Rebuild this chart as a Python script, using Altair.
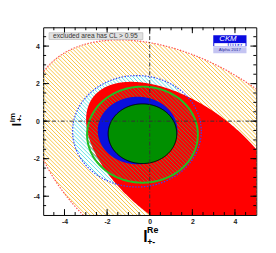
import altair as alt
import numpy as np
import pandas as pd

W, H = 218, 192
XD = [-5, 5]
YD = [-5, 5]

# ---- axis ticks
major_ticks = [-4, -2, 0, 2, 4]
minor_ticks = [-4.5, -4, -3.5, -3, -2.5, -2, -1.5, -1, -0.5, 0, 0.5, 1, 1.5, 2, 2.5, 3, 3.5, 4, 4.5]

# ---- contour boundary points (data units)
big_x = [-5.0, -4.28, -3.36, -1.68, -0.15, 2.91, 4.9, -4.92, -4.13, -3.21]
big_y = [2.7, 3.44, 3.96, 4.27, 4.18, 3.27, 1.70, -2.12, -3.59, -4.98]

red_x = [-2.98, -2.9, -2.06, -0.76, 0.08, 1.68, 2.75, 3.75, 4.51, 4.97, -2.9, -2.6, -2.1, -1.6, -0.76, -0.2]
red_y = [0.14, 1.09, 1.875, 1.93, 1.93, 1.44, 0.83, -0.04, -0.9, -1.6, -0.47, -1.51, -2.55, -3.25, -4.29, -4.9]
# rough starting guess for the red ellipse: centre x, centre y, angle (rad), a, b
red_guess = [1.52, -2.35, -0.70, 5.41, 3.06]

# circles / ellipses: centre x, centre y, radius x, radius y
ring_c = [-0.34, -0.72, 2.60, 2.56]      # green ring (hatched)
dot_c = [-0.60, -0.54, 3.02, 2.97]       # blue dotted circle (cyan hatch)
blue_c = [-0.57, -0.50, 1.87, 1.80]      # blue filled
green_c = [-0.34, -0.67, 1.61, 1.59]     # green filled

FONT = "Liberation Sans"


def conic_from_points(xs, ys):
    x = np.asarray(xs, float)
    y = np.asarray(ys, float)
    Dm = np.column_stack([x * x, x * y, y * y, x, y, np.ones_like(x)])
    _, _, Vt = np.linalg.svd(Dm)
    c = Vt[-1]
    if c[0] + c[2] < 0:
        c = -c
    return c


def conic_from_ellipse(p):
    cx, cy, rx, ry = p
    A = 1 / rx ** 2
    C = 1 / ry ** 2
    return np.array([A, 0.0, C, -2 * cx * A, -2 * cy * C, cx * cx * A + cy * cy * C - 1])


def conic_from_rot(cx, cy, phi, a, b):
    R = np.array([[np.cos(phi), -np.sin(phi)], [np.sin(phi), np.cos(phi)]])
    M = R @ np.diag([1 / a ** 2, 1 / b ** 2]) @ R.T
    c = np.array([cx, cy])
    Mc = M @ c
    return np.array([M[0, 0], 2 * M[0, 1], M[1, 1], -2 * Mc[0], -2 * Mc[1], c @ Mc - 1])


def conic_geom(c):
    A, B, C, D, E, F = c
    M = np.array([[A, B / 2], [B / 2, C]])
    ctr = np.linalg.solve(2 * M, -np.array([D, E]))
    F0 = A * ctr[0] ** 2 + B * ctr[0] * ctr[1] + C * ctr[1] ** 2 + D * ctr[0] + E * ctr[1] + F
    lam, V = np.linalg.eigh(M)
    k = -F0
    r = np.sqrt(k / lam)
    return ctr, r, V, M, k


def nelder_mead(f, x0, steps, iters=3000):
    n = len(x0)
    pts = [np.array(x0, float)]
    for i in range(n):
        p = np.array(x0, float)
        p[i] += steps[i]
        pts.append(p)
    vals = [f(p) for p in pts]
    for _ in range(iters):
        order = np.argsort(vals)
        pts = [pts[i] for i in order]
        vals = [vals[i] for i in order]
        cen = np.mean(pts[:-1], axis=0)
        xr = cen + (cen - pts[-1])
        fr = f(xr)
        if fr < vals[0]:
            xe = cen + 2 * (cen - pts[-1])
            fe = f(xe)
            if fe < fr:
                pts[-1], vals[-1] = xe, fe
            else:
                pts[-1], vals[-1] = xr, fr
        elif fr < vals[-2]:
            pts[-1], vals[-1] = xr, fr
        else:
            xc = cen + 0.5 * (pts[-1] - cen)
            fc = f(xc)
            if fc < vals[-1]:
                pts[-1], vals[-1] = xc, fc
            else:
                for i in range(1, len(pts)):
                    pts[i] = pts[0] + 0.5 * (pts[i] - pts[0])
                    vals[i] = f(pts[i])
    return pts[int(np.argmin(vals))]


def fit_ellipse(xs, ys, guess):
    xs = np.asarray(xs, float)
    ys = np.asarray(ys, float)

    def cost(p):
        cx, cy, phi, la, lb = p
        a, b = np.exp(la), np.exp(lb)
        dx, dy = xs - cx, ys - cy
        u = dx * np.cos(phi) + dy * np.sin(phi)
        v = -dx * np.sin(phi) + dy * np.cos(phi)
        G = (u / a) ** 2 + (v / b) ** 2 - 1
        g = 2 * np.sqrt(u ** 2 / a ** 4 + v ** 2 / b ** 4) + 1e-9
        return np.sum((G / g) ** 2)

    p0 = [guess[0], guess[1], guess[2], np.log(guess[3]), np.log(guess[4])]
    p = nelder_mead(cost, p0, [0.3, 0.3, 0.1, 0.1, 0.1])
    p = nelder_mead(cost, p, [0.05, 0.05, 0.02, 0.02, 0.02])
    return conic_from_rot(p[0], p[1], p[2], np.exp(p[3]), np.exp(p[4]))


def outline(c, n=360):
    ctr, r, V, M, k = conic_geom(c)
    t = np.linspace(0, 2 * np.pi, n)
    pts = ctr[:, None] + V @ np.vstack([r[0] * np.cos(t), r[1] * np.sin(t)])
    return pd.DataFrame({"x": pts[0], "y": pts[1], "i": np.arange(n)})


def band(c, n=500):
    A, B, C, D, E, F = c
    ctr, r, V, M, k = conic_geom(c)
    half = np.sqrt(k * np.linalg.inv(M)[0, 0])
    th = np.linspace(0, np.pi, n)
    xs = ctr[0] - half * np.cos(th)
    b = B * xs + E
    cc = A * xs * xs + D * xs + F
    disc = np.clip(b * b - 4 * C * cc, 0, None)
    y1 = (-b - np.sqrt(disc)) / (2 * C)
    y2 = (-b + np.sqrt(disc)) / (2 * C)
    return pd.DataFrame({"x": xs, "lo": np.minimum(y1, y2), "hi": np.maximum(y1, y2)})


def hatch(c, spacing=4.0, phase=0.0):
    A, B, C, D, E, F = c
    sx = W / (XD[1] - XD[0])
    sy = H / (YD[1] - YD[0])
    rows = []
    for kk in np.arange(-H - spacing, W + spacing, spacing) + phase:
        x0 = XD[0] + kk / sx
        y0 = YD[1]
        dx = 1 / sx
        dy = -1 / sy
        qa = A * dx * dx + B * dx * dy + C * dy * dy
        qb = 2 * A * x0 * dx + B * (x0 * dy + y0 * dx) + 2 * C * y0 * dy + D * dx + E * dy
        qc = A * x0 * x0 + B * x0 * y0 + C * y0 * y0 + D * x0 + E * y0 + F
        disc = qb * qb - 4 * qa * qc
        if disc <= 0:
            continue
        s = np.sqrt(disc)
        t1 = (-qb - s) / (2 * qa)
        t2 = (-qb + s) / (2 * qa)
        rows.append({"x": x0 + dx * t1, "y": y0 + dy * t1, "x2": x0 + dx * t2, "y2": y0 + dy * t2})
    return pd.DataFrame(rows)


big0 = conic_from_points(big_x, big_y)
_ctr, _r, _V, _M, _k = conic_geom(big0)
big_guess = [_ctr[0], _ctr[1], np.arctan2(_V[1, 0], _V[0, 0]), _r[0], _r[1]]
big = fit_ellipse(big_x, big_y, big_guess)
red = fit_ellipse(red_x, red_y, red_guess)
ring = conic_from_ellipse(ring_c)
dotc = conic_from_ellipse(dot_c)
bluec = conic_from_ellipse(blue_c)
greenc = conic_from_ellipse(green_c)

SX = alt.Scale(domain=XD, nice=False, zero=False)
SY = alt.Scale(domain=YD, nice=False, zero=False)
AXX = alt.Axis(values=major_ticks, title=None, ticks=False, domain=False, grid=False,
               labelFont=FONT, labelFontSize=7, labelFontWeight="bold", labelColor="#222222",
               labelPadding=3, labelExpr="'' + datum.value")
AXY = alt.Axis(values=major_ticks, title=None, ticks=False, domain=False, grid=False,
               labelFont=FONT, labelFontSize=7, labelFontWeight="bold", labelColor="#222222",
               labelPadding=4, labelExpr="'' + datum.value")


def X(f="x"):
    return alt.X(f, type="quantitative", scale=SX, axis=AXX)


def Y(f="y"):
    return alt.Y(f, type="quantitative", scale=SY, axis=AXY)


ONE = alt.Data(values=[{}])


def area(c, color):
    return alt.Chart(band(c)).mark_area(clip=True, color=color, opacity=1, strokeWidth=0).encode(
        x=X("x"), y=Y("lo"), y2=alt.Y2("hi"))


def hlines(c, color, width=1.0, phase=0.0):
    return alt.Chart(hatch(c, 4.0, phase)).mark_rule(clip=True, color=color, strokeWidth=width).encode(
        x=X("x"), y=Y("y"), x2=alt.X2("x2"), y2=alt.Y2("y2"))


def oline(c, color, width=1.0, dash=None):
    kw = dict(clip=True, color=color, strokeWidth=width)
    if dash:
        kw["strokeDash"] = dash
    return alt.Chart(outline(c)).mark_line(**kw).encode(x=X("x"), y=Y("y"), order=alt.Order("i:Q"))


layers = [
    hlines(big, "#f9c440", 1.0),
    area(dotc, "white"),
    hlines(dotc, "#5de0e0", 1.0, 1.0),
    area(red, "#ff0000"),
    hlines(ring, "#707a4a", 1.0, 2.0),
    area(bluec, "#0a10dd"),
    area(greenc, "#008f00"),
    oline(greenc, "black", 1.0),
    oline(ring, "#22c022", 2.0),
    oline(dotc, "#3344ff", 1.2, [1.5, 1.5]),
    oline(big, "#ff5050", 1.2, [1.5, 1.5]),
]

# crosshair dash-dot lines at zero
zero_df = pd.DataFrame({"v": [0]})
layers.append(alt.Chart(zero_df).mark_rule(color="#333333", strokeWidth=1, strokeDash=[4, 2, 1, 2]).encode(
    x=X("v"), y=alt.value(0), y2=alt.value(H)))
layers.append(alt.Chart(zero_df).mark_rule(color="#333333", strokeWidth=1, strokeDash=[4, 2, 1, 2]).encode(
    y=Y("v"), x=alt.value(0), x2=alt.value(W)))

# ticks pointing inward on all four sides
maj = pd.DataFrame({"v": major_ticks})
mnr = pd.DataFrame({"v": minor_ticks})
for df, ln in [(maj, 6), (mnr, 3)]:
    layers.append(alt.Chart(df).mark_rule(color="black", strokeWidth=1).encode(
        x=X("v"), y=alt.value(H), y2=alt.value(H - ln)))
    layers.append(alt.Chart(df).mark_rule(color="black", strokeWidth=1).encode(
        x=X("v"), y=alt.value(0), y2=alt.value(ln)))
    layers.append(alt.Chart(df).mark_rule(color="black", strokeWidth=1).encode(
        y=Y("v"), x=alt.value(0), x2=alt.value(ln)))
    layers.append(alt.Chart(df).mark_rule(color="black", strokeWidth=1).encode(
        y=Y("v"), x=alt.value(W), x2=alt.value(W - ln)))

# legend box
layers.append(alt.Chart(ONE).mark_rect(fill="#e2e2e2", stroke="#b0b0b0", strokeWidth=0.6).encode(
    x=alt.value(6), x2=alt.value(102), y=alt.value(5.5), y2=alt.value(12.5)))
layers.append(alt.Chart(ONE).mark_text(text="excluded area has CL > 0.95", font=FONT, fontSize=6.8,
                                       color="#333333", align="left", baseline="middle").encode(
    x=alt.value(10), y=alt.value(9.2)))

# CKMfitter logo
layers.append(alt.Chart(ONE).mark_rect(fill="#0a0ae0").encode(
    x=alt.value(174), x2=alt.value(208), y=alt.value(8), y2=alt.value(19.5)))
layers.append(alt.Chart(ONE).mark_rect(fill="white").encode(
    x=alt.value(175), x2=alt.value(207), y=alt.value(16.2), y2=alt.value(19.2)))
layers.append(alt.Chart(ONE).mark_rect(fill="#c4c4f2").encode(
    x=alt.value(174), x2=alt.value(208), y=alt.value(20.5), y2=alt.value(26.5)))
layers.append(alt.Chart(ONE).mark_text(text="CKM", font=FONT, fontSize=8, fontStyle="italic",
                                       color="white", align="center", baseline="middle").encode(
    x=alt.value(189), y=alt.value(11.6)))
layers.append(alt.Chart(ONE).mark_text(text="f i t t e r", font=FONT, fontSize=4.2, fontWeight="bold",
                                       color="#0a0ae0", align="center", baseline="middle").encode(
    x=alt.value(196), y=alt.value(17.9)))
layers.append(alt.Chart(ONE).mark_text(text="Alpha 2017", font=FONT, fontSize=4.5,
                                       color="#3030a0", align="center", baseline="middle").encode(
    x=alt.value(191), y=alt.value(23.6)))


# axis titles
def txt(s, x, y, size, angle=0):
    kw = dict(text=s, font=FONT, fontSize=size, fontWeight="bold", color="black",
              align="center", baseline="middle")
    if angle:
        kw["angle"] = angle
    return alt.Chart(ONE).mark_text(**kw).encode(x=alt.value(x), y=alt.value(y))


layers += [
    txt("l", 104.5, 214.5, 16),
    txt("Re", 112, 207.5, 9),
    txt("+-", 110.5, 219.5, 9),
    txt("l", -27, 99.5, 14, 270),
    txt("Im", -31, 92.5, 8, 270),
    txt("+-", -23.5, 93, 8, 270),
]

chart = alt.layer(*layers).properties(
    width=W, height=H,
    autosize=alt.AutoSizeParams(type="none"),
    padding={"left": 36, "top": 17, "right": 12, "bottom": 30},
).configure_view(stroke="black", strokeWidth=1)

chart.save("out.html", embed_options={"renderer": "svg", "actions": False})
